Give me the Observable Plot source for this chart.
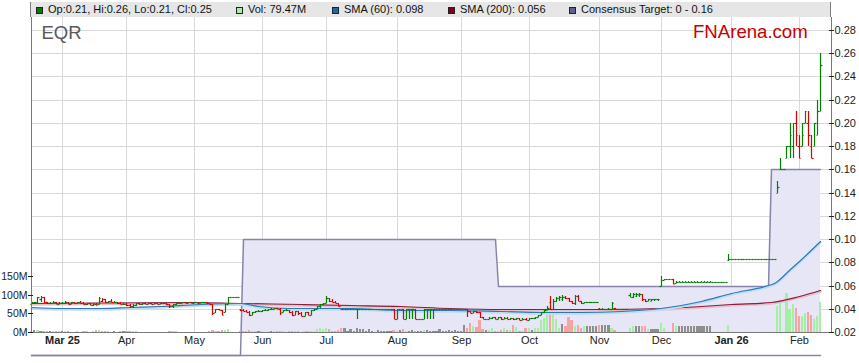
<!DOCTYPE html>
<html><head><meta charset="utf-8">
<script src="https://cdn.jsdelivr.net/npm/d3@7"></script>
<script src="https://cdn.jsdelivr.net/npm/@observablehq/plot@0.6"></script>
<style>
html,body{margin:0;padding:0;background:#fff;}
body{width:859px;height:363px;overflow:hidden;position:relative;font-family:Arial,"Liberation Sans",sans-serif;}
#chart{position:absolute;left:0;top:0;}
#hdr{position:absolute;left:30px;top:2px;width:799px;height:15px;background:#e6e6e6;border-left:1px solid #7d7d7d;border-right:1px solid #7d7d7d;font-size:11px;color:#111;}
.li{position:absolute;top:1px;line-height:13px;white-space:nowrap;}
.sw{position:absolute;top:3.5px;left:-12px;width:5px;height:5px;border:1px solid #222;}
#sym{position:absolute;left:41.5px;top:23.5px;font-size:18.5px;line-height:18.5px;color:#5a5a5a;}
#brand{position:absolute;left:693px;top:22.8px;font-size:18.6px;line-height:18.6px;color:#cc0000;}
</style></head>
<body>
<div id="chart"></div>
<div id="hdr"></div>
<div id="sym">EQR</div>
<div id="brand">FNArena.com</div>
<script>
// ---------- data (prices in A$, volume in millions of shares) ----------
const firstDay = "2025-02-17"; // first trading day shown; one bar per weekday
const open = [
 .044,.046,.046,.048,.050,.046,.045,.045,.046,.044,
 .045,.045,.046,.044,.046,.045,.046,.045,.044,.045,.043,.044,.044,.047,.048,.046,.047,.046,.046,.045,.044,
 .044,.043,.042,.043,.045,.044,.045,.044,.045,.044,.045,.044,.045,.045,.044,.042,.044,.045,.045,.046,.045,.046,
 .045,.046,.045,.046,.046,.045,.044,.037,.040,.039,.037,.044,.050,.050,.050,.040,.039,.038,.037,.035,.037,.038,
 .038,.039,.039,.040,.040,.041,.040,.037,.039,.039,.037,.035,.038,.036,.034,.037,.035,.039,.040,.042,.044,
 .045,.049,.047,.046,.045,.040,.040,.040,.040,.040,.040,.040,.040,.040,.040,.040,.040,.040,.040,.040,.040,.040,.040,
 .031,.040,.040,.031,.040,.040,.040,.031,.031,.031,.040,.040,.040,.040,.040,.040,.040,.040,.040,.040,.040,
 .040,.040,.040,.038,.036,.038,.037,.033,.031,.031,.032,.033,.031,.033,.031,.032,.031,.032,.031,.032,.030,.031,
 .030,.032,.032,.033,.035,.037,.039,.046,.040,.047,.049,.048,.050,.049,.047,.045,.051,.047,.045,.046,.046,.046,.046,
 .041,.040,.040,.040,.040,.041,.040,.040,.040,.040,.052,.050,.051,.052,.053,.048,.047,.047,.048,.048,
 .060,.065,.066,.066,.066,.062,.063,.063,.063,.063,.063,.063,.063,.063,.063,.063,.063,.063,.063,.063,.063,.063,.082,
 .083,.083,.083,.083,.083,.083,.083,.083,.083,.083,.083,.083,.083,.083,.083,.140,.160,.160,.170,.180,.180,.200,
 .180,.180,.200,.200,.180,.180,.190,.210
];
const high = [
 .046,.046,.050,.051,.050,.046,.046,.047,.046,.046,
 .046,.047,.046,.046,.046,.046,.047,.046,.045,.045,.045,.045,.050,.049,.048,.047,.048,.047,.046,.046,.045,
 .045,.044,.044,.045,.045,.045,.045,.045,.045,.045,.045,.045,.045,.045,.044,.044,.045,.046,.046,.046,.046,.046,
 .046,.046,.046,.046,.046,.045,.044,.040,.040,.039,.044,.050,.050,.050,.050,.040,.040,.039,.038,.037,.038,.039,
 .039,.040,.040,.041,.041,.041,.041,.039,.040,.039,.038,.038,.038,.037,.037,.037,.039,.040,.042,.044,.045,
 .051,.049,.048,.047,.045,.040,.040,.040,.040,.040,.040,.040,.040,.040,.040,.040,.040,.040,.040,.040,.040,.040,.040,
 .040,.040,.040,.040,.040,.040,.040,.031,.031,.040,.040,.040,.040,.040,.040,.040,.040,.040,.040,.040,.040,
 .040,.040,.040,.038,.038,.038,.037,.033,.031,.033,.033,.033,.033,.033,.033,.033,.032,.032,.032,.032,.032,.032,
 .032,.032,.033,.035,.037,.040,.042,.051,.048,.050,.051,.052,.051,.049,.047,.052,.052,.047,.046,.046,.046,.046,.046,
 .041,.041,.040,.041,.046,.041,.040,.040,.040,.040,.054,.054,.054,.054,.053,.048,.048,.048,.048,.048,
 .068,.066,.066,.066,.066,.064,.064,.064,.064,.064,.064,.064,.064,.064,.064,.064,.064,.063,.063,.063,.063,.063,.087,
 .083,.083,.083,.083,.083,.083,.083,.083,.083,.083,.083,.083,.083,.083,.083,.150,.170,.160,.180,.200,.200,.210,
 .190,.200,.210,.210,.190,.200,.220,.260
];
const low = [
 .044,.045,.045,.046,.045,.044,.044,.045,.044,.044,
 .045,.044,.044,.044,.045,.045,.045,.044,.043,.043,.042,.043,.044,.046,.045,.045,.046,.045,.044,.044,.043,
 .042,.041,.041,.042,.043,.043,.044,.044,.044,.044,.044,.044,.044,.043,.041,.041,.043,.044,.045,.045,.045,.045,
 .045,.045,.045,.045,.045,.044,.035,.036,.039,.035,.037,.044,.050,.050,.050,.038,.038,.037,.034,.035,.036,.037,
 .037,.038,.038,.039,.040,.040,.035,.037,.038,.036,.034,.035,.035,.034,.034,.035,.035,.038,.040,.041,.043,
 .045,.046,.046,.045,.042,.040,.040,.040,.040,.040,.031,.040,.040,.040,.040,.040,.040,.040,.040,.040,.040,.040,.031,
 .031,.040,.031,.031,.031,.031,.031,.031,.031,.031,.031,.031,.031,.040,.040,.040,.040,.040,.040,.040,.040,
 .040,.040,.033,.036,.036,.036,.032,.031,.031,.031,.031,.031,.031,.030,.031,.031,.030,.030,.030,.030,.030,.030,
 .030,.031,.031,.033,.035,.036,.039,.040,.040,.046,.047,.047,.048,.046,.044,.043,.047,.044,.045,.045,.045,.045,.045,
 .040,.039,.039,.039,.040,.040,.040,.040,.040,.040,.050,.049,.050,.050,.047,.046,.047,.047,.047,.047,
 .060,.065,.066,.066,.061,.062,.063,.063,.063,.063,.063,.063,.063,.063,.063,.063,.063,.063,.063,.063,.063,.063,.081,
 .083,.083,.083,.083,.083,.083,.083,.083,.083,.083,.083,.083,.083,.083,.083,.140,.160,.160,.170,.170,.170,.180,
 .170,.180,.200,.180,.170,.180,.190,.210
];
const close = [
 .046,.046,.050,.050,.046,.045,.045,.046,.044,.045,
 .045,.046,.044,.046,.045,.046,.045,.044,.045,.043,.044,.043,.049,.048,.046,.047,.046,.046,.045,.044,.044,
 .043,.042,.043,.045,.044,.045,.044,.045,.044,.045,.044,.045,.045,.044,.042,.044,.045,.045,.046,.045,.046,.045,
 .046,.045,.046,.046,.045,.044,.036,.040,.039,.035,.044,.050,.050,.050,.050,.039,.038,.037,.035,.037,.038,.038,
 .039,.039,.040,.040,.041,.040,.036,.039,.039,.037,.035,.038,.036,.034,.037,.035,.039,.040,.042,.044,.045,
 .049,.047,.046,.045,.042,.040,.040,.040,.040,.040,.040,.040,.040,.040,.040,.040,.040,.040,.040,.040,.040,.040,.031,
 .040,.040,.031,.040,.040,.040,.031,.031,.031,.040,.040,.040,.040,.040,.040,.040,.040,.040,.040,.040,.040,
 .040,.040,.038,.036,.038,.037,.033,.031,.031,.032,.033,.031,.033,.031,.032,.031,.032,.031,.032,.030,.031,.030,
 .032,.032,.033,.035,.037,.039,.041,.040,.047,.049,.050,.050,.049,.047,.045,.051,.047,.045,.046,.046,.046,.046,.046,
 .040,.040,.040,.040,.045,.040,.040,.040,.040,.040,.050,.053,.053,.053,.048,.047,.048,.048,.048,.048,
 .065,.066,.066,.066,.061,.063,.063,.063,.063,.063,.063,.063,.063,.063,.063,.063,.063,.063,.063,.063,.063,.063,.083,
 .083,.083,.083,.083,.083,.083,.083,.083,.083,.083,.083,.083,.083,.083,.083,.145,.160,.160,.180,.190,.200,.190,
 .170,.190,.210,.190,.170,.200,.210,.250
];
const volume = [
 3,6,5,3,4,2,4,3,2,2,
 2,2,2,1,1,2,1,2,3,1,2,6,5,2,4,4,1,2,1,2,2,
 2,3,3,2,1,1,1,1,1,1,1,1,1,1,4,2,4,1,1,1,1,1,
 1,1,1,1,1,2,5,3,2,5,6,8,0,0,0,4,3,3,5,2,3,2,
 2,1,2,2,3,4,2,3,1,3,3,2,3,1,2,2,3,4,9,10,8,
 12,8,3,4,5,12,12,3,8,3,10,8,8,3,9,2,1,5,4,3,2,3,6,
 3,6,7,3,4,6,3,2,4,5,6,4,3,2,8,3,3,5,2,6,3,
 3,19,10,23,15,13,32,8,6,6,10,4,3,5,10,6,6,19,14,4,4,10,
 12,6,12,12,32,39,45,52,50,36,12,22,16,41,32,16,18,12,16,16,16,16,16,
 18,18,18,18,10,6,0,0,0,0,10,16,16,16,16,16,7,7,7,7,
 23,10,0,0,23,16,16,16,16,16,16,16,16,16,16,16,16,0,0,0,0,0,18,
 0,0,0,0,0,0,0,0,0,0,0,0,0,0,0,70,86,0,104,63,74,65,
 43,43,50,54,45,34,43,79.47
];
// moving averages at sample bars (bar index, 0 = 3 Mar 2025)
const sma60Bar = [-10,0,13,22,32,45,58,64,74,84,94,110,126,143,156,169,182,195,208,218,230,232,237,240,247];
const sma60Val = [.0412,.0403,.041,.0412,.042,.044,.0449,.0425,.0408,.041,.0406,.0389,.0391,.0378,.0369,.0372,.038,.0403,.0468,.0534,.0603,.0626,.074,.0811,.098];
const sma200Bar = [-10,42,58,78,94,110,126,143,159,175,195,208,218,231,240,247];
const sma200Val = [.0449,.0455,.0449,.044,.0432,.042,.0408,.040,.0397,.040,.0408,.0425,.0437,.046,.0511,.0565];
// consensus target band (low - high)
const consBar = [-10,58,59,141,142,230,231,247];
const consHigh = [0,0,.10,.10,.06,.06,.16,.16];
const consLow = [0,0,0,0,0,0,0,0];
// axis labels
const priceTicks = [0.02,0.04,0.06,0.08,0.10,0.12,0.14,0.16,0.18,0.20,0.22,0.24,0.26,0.28];
const volTicks = [0,50,100,150];
const volLabels = ["0M","50M","100M","150M"];
const monthLabels = ["Mar 25","Apr","May","Jun","Jul","Aug","Sep","Oct","Nov","Dec","Jan 26","Feb"];
const boldMonths = ["Mar 25","Jan 26"];
// legend
const legendItems = [
 {left:5, color:"#008000", text:"Op:0.21, Hi:0.26, Lo:0.21, Cl:0.25"},
 {left:205, color:"#a3f0a3", text:"Vol: 79.47M"},
 {left:301, color:"#1e6aa8", text:"SMA (60): 0.098"},
 {left:417, color:"#800020", text:"SMA (200): 0.056"},
 {left:538, color:"#606090", text:"Consensus Target: 0 - 0.16"}
];

// ---------- build ----------
const FIRST = -10;
const dates = [];
{
  const d = new Date(firstDay + "T00:00:00");
  while (dates.length < open.length) {
    const wd = d.getDay();
    if (wd > 0 && wd < 6) dates.push(new Date(d));
    d.setDate(d.getDate() + 1);
  }
}
const bars = open.map((o, k) => ({
  i: k + FIRST, o, h: high[k], l: low[k], c: close[k], v: volume[k],
  prev: k ? close[k - 1] : o
}));
const monthStarts = [];
for (let k = 1; k < dates.length; k++) if (dates[k].getMonth() !== dates[k - 1].getMonth()) monthStarts.push(k + FIRST);
const months = monthStarts.map((i, k) => ({i, label: monthLabels[k]}));

const VOL = 0.048 / 150;          // price units per million shares (left axis)
const volToY = m => 0.02 + m * VOL;
const volTickY = volTicks.map(volToY);
const volLabelOf = new Map(volTickY.map((y, k) => [y, volLabels[k]]));

const sma60 = sma60Bar.map((i, k) => ({i, v: sma60Val[k]}));
const sma200 = sma200Bar.map((i, k) => ({i, v: sma200Val[k]}));
const cons = consBar.map((i, k) => ({i, hi: consHigh[k], lo: consLow[k]}));

const UP = "#008000", DOWN = "#dd0000";
const barColor = d => d.c < d.prev ? DOWN : UP;
const volColor = d => d.c > d.prev ? "#a3f0a3" : d.c < d.prev ? "#f5a3a3" : "#8e8e8e";

const X0 = -10.1, X1 = 250.5, Y0 = 0.02, Y1 = 0.2912;

const chart = Plot.plot({
  width: 859, height: 363,
  marginLeft: 31, marginRight: 28, marginTop: 17, marginBottom: 31,
  x: {domain: [X0, X1], axis: null, round: true},
  y: {domain: [Y0, Y1], axis: null, round: true},
  color: {type: "identity"},
  style: {fontFamily: 'Arial, "Liberation Sans", sans-serif', fontSize: "11px", color: "#222", background: "transparent", overflow: "visible"},
  marks: [
    Plot.gridY(priceTicks, {stroke: "#d9d9d9", strokeOpacity: 1}),
    Plot.gridX(monthStarts, {stroke: "#d9d9d9", strokeOpacity: 1}),
    Plot.areaY(cons, {x: "i", y1: "lo", y2: "hi", fill: "#e6e6f6", clip: true}),
    Plot.line(cons, {x: "i", y: "lo", stroke: "#8686ab", strokeWidth: 1.5}),
    Plot.line(cons, {x: "i", y: "hi", stroke: "#8686ab", strokeWidth: 1.5}),
    Plot.rect(bars.filter(d => d.v > 0), {x1: d => d.i - 0.36, x2: d => d.i + 0.36, y1: () => Y0, y2: d => volToY(d.v), fill: volColor}),
    Plot.line(sma200, {x: "i", y: "v", stroke: "#e4c2cb", strokeWidth: 2.5, dy: 1, curve: "monotone-x"}),
    Plot.line(sma200, {x: "i", y: "v", stroke: "#8c1c3c", strokeWidth: 1.2, curve: "monotone-x"}),
    Plot.line(sma60, {x: "i", y: "v", stroke: "#c2dcef", strokeWidth: 2.5, dy: 1, curve: "monotone-x"}),
    Plot.line(sma60, {x: "i", y: "v", stroke: "#2c78b8", strokeWidth: 1.2, curve: "monotone-x"}),
    Plot.ruleX(bars, {x: "i", y1: "l", y2: "h", stroke: barColor, strokeWidth: 1.2}),
    Plot.link(bars, {x1: d => d.i - 0.5, x2: "i", y1: "o", y2: "o", stroke: barColor, strokeWidth: 1.2}),
    Plot.link(bars, {x1: "i", x2: d => d.i + 0.5, y1: "c", y2: "c", stroke: barColor, strokeWidth: 1.2}),
    Plot.ruleX([X0], {stroke: "#7a7a7a"}),
    Plot.ruleX([X1], {stroke: "#7a7a7a"}),
    Plot.ruleY([Y0], {stroke: "#7a7a7a"}),
    Plot.axisY(priceTicks, {anchor: "right", tickFormat: d => d.toFixed(2), tickSize: 5, tickPadding: 1, dx: -3, fontSize: 11, color: "#222"}),
    Plot.axisY(volTickY, {anchor: "left", tickFormat: d => volLabelOf.get(d), tickSize: 5, tickPadding: 1, dx: 2, fontSize: 10.5, color: "#222"}),
    Plot.text(months.filter(d => !boldMonths.includes(d.label)), {x: "i", text: "label", frameAnchor: "bottom", dy: 11, fontSize: 11, fill: "#222"}),
    Plot.text(months.filter(d => boldMonths.includes(d.label)), {x: "i", text: "label", frameAnchor: "bottom", dy: 11, fontSize: 11, fontWeight: "bold", fill: "#222"})
  ]
});
document.getElementById("chart").appendChild(chart);

const hdr = document.getElementById("hdr");
for (const it of legendItems) {
  const el = document.createElement("div");
  el.className = "li";
  el.style.left = (it.left + 12) + "px";
  el.innerHTML = `<span class="sw" style="background:${it.color}"></span>`;
  el.appendChild(document.createTextNode(it.text));
  hdr.appendChild(el);
}
</script>
</body></html>
